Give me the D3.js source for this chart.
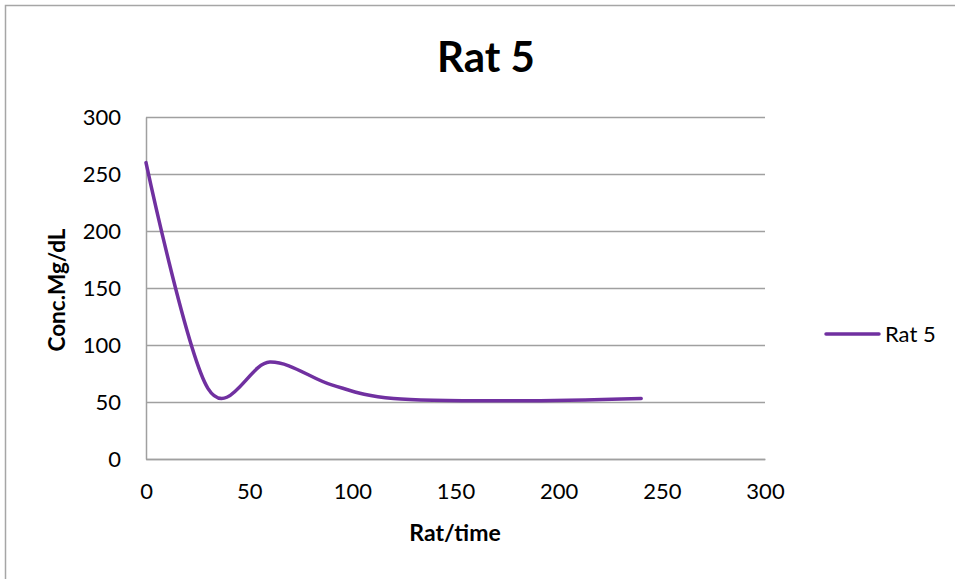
<!DOCTYPE html>
<html>
<head>
<meta charset="utf-8">
<script src="https://cdn.jsdelivr.net/npm/d3@7"></script>
<style>
  html, body { margin: 0; padding: 0; background: #fff; }
  svg { display: block; }
  text { font-family: Lato, "Open Sans", sans-serif; fill: #000; }
</style>
</head>
<body>
<svg id="chart" width="955" height="579"></svg>
<script>
// Blood concentration of rat 5 over time
const times = [0, 30, 60, 90, 120, 180, 240];
const conc = [260, 62, 85, 65, 53, 51, 53];
const seriesName = "Rat 5";
const xTicks = [0, 50, 100, 150, 200, 250, 300];
const yTicks = [0, 50, 100, 150, 200, 250, 300];

const svg = d3.select("#chart");
const W = 955, H = 579;
const plot = { left: 146, right: 765, top: 117, bottom: 459 };

// outer chart frame
svg.append("rect")
  .attr("x", 5.5).attr("y", 5.5)
  .attr("width", W + 10).attr("height", H + 10)
  .attr("fill", "#fff").attr("stroke", "#a6a6a6").attr("stroke-width", 1.5);

const x = d3.scaleLinear().domain([0, 300]).range([plot.left, plot.right]);
const y = d3.scaleLinear().domain([0, 300]).range([plot.bottom, plot.top]);

// horizontal gridlines
svg.append("g")
  .attr("transform", `translate(${plot.left},0)`)
  .call(d3.axisLeft(y).tickValues(yTicks).tickSize(-(plot.right - plot.left)).tickFormat(""))
  .call(g => g.select(".domain").remove())
  .call(g => g.selectAll("line").attr("stroke", "#a0a0a0").attr("stroke-width", 1.5));

// y axis line and labels
svg.append("g")
  .attr("transform", `translate(${plot.left},0)`)
  .call(d3.axisLeft(y).tickValues(yTicks).tickSize(0).tickPadding(25))
  .call(g => g.select(".domain").attr("stroke", "#a0a0a0").attr("stroke-width", 1.5))
  .call(g => g.selectAll("text").attr("font-size", 22).attr("font-family", "Lato, sans-serif").attr("fill", "#000"));

// x axis line and labels
svg.append("g")
  .attr("transform", `translate(0,${plot.bottom})`)
  .call(d3.axisBottom(x).tickValues(xTicks).tickSize(0).tickPadding(24))
  .call(g => g.select(".domain").attr("stroke", "#a0a0a0").attr("stroke-width", 1.5))
  .call(g => g.selectAll("text").attr("font-size", 22).attr("font-family", "Lato, sans-serif").attr("fill", "#000"));

// series line, smoothed
const line = d3.line()
  .x((d, i) => x(times[i]))
  .y(d => y(d))
  .curve(d3.curveCatmullRom.alpha(0));

svg.append("path")
  .datum(conc)
  .attr("d", line)
  .attr("fill", "none")
  .attr("stroke", "#7030a0")
  .attr("stroke-width", 3.5)
  .attr("stroke-linecap", "round");

// title
svg.append("text")
  .attr("x", 486).attr("y", 72)
  .attr("text-anchor", "middle")
  .attr("font-size", 42).attr("font-weight", "bold")
  .text("Rat 5");

// axis titles
svg.append("text")
  .attr("x", 455).attr("y", 541)
  .attr("text-anchor", "middle")
  .attr("font-size", 23).attr("font-weight", "bold")
  .text("Rat/time");

svg.append("text")
  .attr("transform", `translate(65,290) rotate(-90)`)
  .attr("text-anchor", "middle")
  .attr("font-size", 22.5).attr("font-weight", "bold")
  .text("Conc.Mg/dL");

// legend
const legend = svg.append("g").attr("transform", "translate(826,334)");
legend.append("line")
  .attr("x1", 0).attr("x2", 53).attr("y1", 0).attr("y2", 0)
  .attr("stroke", "#7030a0").attr("stroke-width", 3.5).attr("stroke-linecap", "round");
legend.append("text")
  .attr("x", 59).attr("y", 8)
  .attr("font-size", 22)
  .text(seriesName);
</script>
</body>
</html>
